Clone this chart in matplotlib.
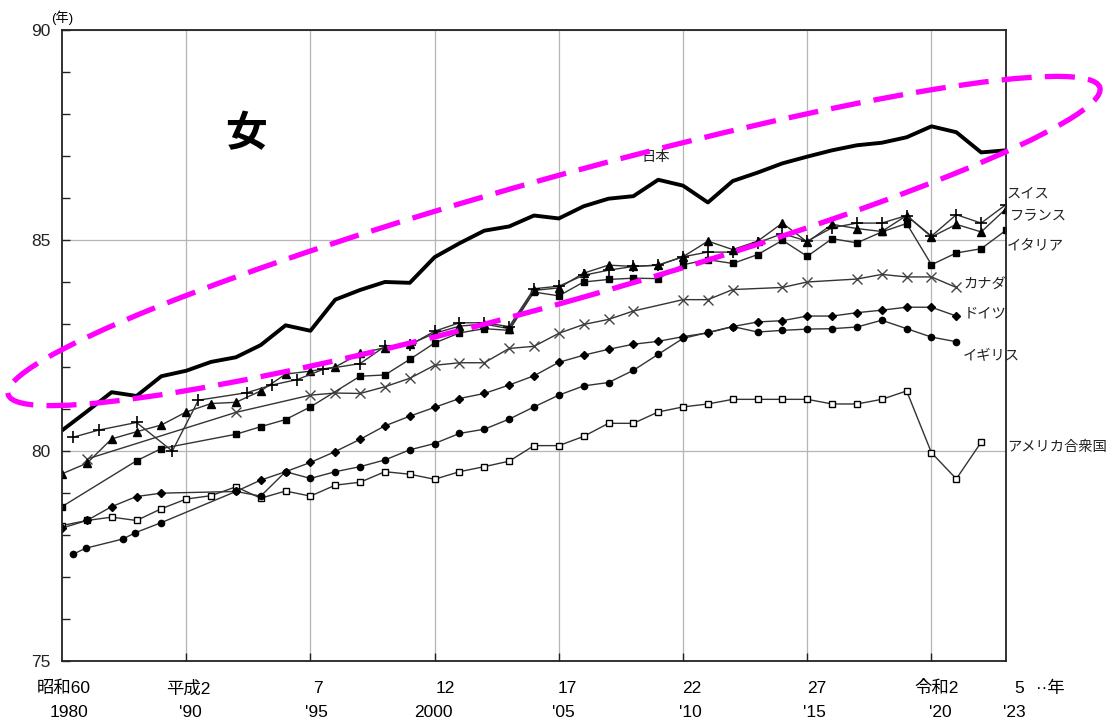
import matplotlib
matplotlib.use("Agg")
import matplotlib.pyplot as plt
from matplotlib.patches import Ellipse

plt.rcParams['font.family'] = ['Liberation Sans', 'Noto Sans CJK JP']

# female life expectancy (years)
jpn_years = list(range(1985, 2024))
jpn = [80.48, 80.93, 81.39, 81.30, 81.77, 81.90, 82.11, 82.22, 82.51, 82.98,
       82.85, 83.59, 83.82, 84.01, 83.99, 84.60, 84.93, 85.23, 85.33, 85.59,
       85.52, 85.81, 85.99, 86.05, 86.44, 86.30, 85.90, 86.41, 86.61, 86.83,
       86.99, 87.14, 87.26, 87.32, 87.45, 87.71, 87.57, 87.09, 87.14]

sui_years = [1985.45, 1986.48, 1988.0, 1989.44, 1990.49, 1992.46, 1993.44, 1994.47,
             1995.5, 1997] + list(range(1998, 2024))
sui = [80.32, 80.49, 80.67, 79.99, 81.20, 81.38, 81.56, 81.69, 81.93, 82.07,
       82.48, 82.51, 82.84, 83.04, 83.04, 82.95, 83.85, 83.91, 84.17, 84.29,
       84.38, 84.41, 84.61, 84.72, 84.72, 84.94, 85.16, 84.98, 85.30, 85.41,
       85.41, 85.59, 85.10, 85.61, 85.41, 85.85]

fra_years = list(range(1985, 2024))
fra = [79.45, 79.70, 80.28, 80.45, 80.61, 80.92, 81.12, 81.15, 81.42, 81.82,
       81.89, 81.99, 82.31, 82.45, 82.53, 82.79, 82.96, 83.01, 82.90, 83.81,
       83.87, 84.22, 84.41, 84.38, 84.41, 84.61, 84.98, 84.78, 84.98, 85.41,
       84.96, 85.38, 85.28, 85.21, 85.59, 85.08, 85.38, 85.20, 85.75]

ita_years = [1985, 1988, 1989, 1992, 1993, 1994, 1995, 1997, 1998, 1999, 2000] + list(range(2001, 2024))
ita = [78.67, 79.76, 80.05, 80.39, 80.57, 80.74, 81.04, 81.77, 81.80, 82.17, 82.56,
       82.80, 82.90, 82.86, 83.77, 83.68, 84.01, 84.07, 84.10, 84.09, 84.42,
       84.54, 84.45, 84.66, 85.00, 84.62, 85.04, 84.94, 85.20, 85.40, 84.42,
       84.70, 84.80, 85.24]

can_years = [1986, 1992, 1995, 1996, 1997, 1998, 1999, 2000, 2001, 2002, 2003, 2004, 2005,
             2006, 2007, 2008, 2010, 2011, 2012, 2014, 2015, 2017, 2018, 2019, 2020, 2021]
can = [79.80, 80.91, 81.32, 81.37, 81.36, 81.52, 81.72, 82.03, 82.09, 82.09, 82.43, 82.48, 82.79,
       83.00, 83.12, 83.32, 83.59, 83.59, 83.83, 83.88, 84.01, 84.08, 84.19, 84.13, 84.13, 83.88]

ger_years = [1985, 1986, 1987, 1988, 1989] + list(range(1992, 2022))
ger = [78.16, 78.34, 78.67, 78.91, 78.99,
       79.03, 79.30, 79.50, 79.72, 79.98, 80.27, 80.59, 80.82, 81.03, 81.24,
       81.36, 81.56, 81.78, 82.10, 82.27, 82.41, 82.53, 82.60, 82.71, 82.80,
       82.95, 83.06, 83.09, 83.20, 83.20, 83.28, 83.34, 83.41, 83.41, 83.20]

uk_years = [1985.45, 1985.95, 1987.45, 1987.95, 1989] + list(range(1992, 2022))
uk = [77.54, 77.68, 77.90, 78.05, 78.29,
      79.03, 78.92, 79.50, 79.34, 79.50, 79.62, 79.78, 80.02, 80.17, 80.41,
      80.51, 80.75, 81.04, 81.32, 81.54, 81.62, 81.91, 82.29, 82.67, 82.81,
      82.95, 82.82, 82.86, 82.89, 82.90, 82.94, 83.10, 82.90, 82.70, 82.59]

usa_years = list(range(1985, 2023))
usa = [78.22, 78.34, 78.42, 78.34, 78.62, 78.85, 78.93, 79.14, 78.87, 79.04,
       78.92, 79.18, 79.25, 79.50, 79.44, 79.32, 79.50, 79.62, 79.75, 80.12,
       80.12, 80.34, 80.65, 80.65, 80.92, 81.04, 81.11, 81.22, 81.22, 81.22,
       81.22, 81.11, 81.11, 81.22, 81.42, 79.95, 79.33, 80.20]

era_labels = ['昭和60', '平成2', '7', '12', '17', '22', '27', '令和2', '5']
year_labels = ['1980', "'90", "'95", '2000', "'05", "'10", "'15", "'20", "'23"]
era_pos = [1985.05, 1990.1, 1995.3, 2000.45, 2005.35, 2010.35, 2015.4, 2020.2, 2023.55]
year_pos = [1985.3, 1990.15, 1995.25, 1999.95, 2005.2, 2010.3, 2015.3, 2020.35, 2023.35]

fig = plt.figure(figsize=(11.09, 7.21), dpi=100)
ax = fig.add_axes([62 / 1109, 1 - 661 / 721, (1006 - 62) / 1109, (661 - 30) / 721])

lc = '#333333'
ax.plot(usa_years, usa, color=lc, lw=1.0, marker='s', ms=5, mfc='white', mec='k', mew=1.0)
ax.plot(uk_years, uk, color=lc, lw=1.0, marker='o', ms=4.5, mfc='k', mec='k')
ax.plot(ger_years, ger, color=lc, lw=1.0, marker='D', ms=4.5, mfc='k', mec='k')
ax.plot(can_years, can, color=lc, lw=1.0, marker='x', ms=7, mec='#444444', mew=1.0)
ax.plot(ita_years, ita, color=lc, lw=1.0, marker='s', ms=5, mfc='k', mec='k')
ax.plot(fra_years, fra, color=lc, lw=1.0, marker='^', ms=6, mfc='k', mec='k')
ax.plot(sui_years, sui, color=lc, lw=1.0, marker='+', ms=9, mec='k', mew=1.2)
ax.plot(jpn_years, jpn, color='k', lw=2.8)

ax.set_xlim(1985, 2023)
ax.set_ylim(75, 90)
ax.set_xticks(range(1990, 2021, 5))
ax.set_xticklabels([])
ax.set_yticks([75, 80, 85, 90])
ax.set_yticks(range(75, 91), minor=True)
ax.tick_params(axis='both', which='both', direction='in', length=6, width=1.0, colors='#222222')
ax.tick_params(axis='y', labelsize=12.5, pad=8)
ax.grid(True, which='major', color='#b5b5b5', lw=0.9)
for s in ax.spines.values():
    s.set_linewidth(1.3)
    s.set_color('#222222')

tr = ax.get_xaxis_transform()
for p, t in zip(era_pos, era_labels):
    ax.text(p, -0.043, t, transform=tr, ha='center', va='center', fontsize=12.5)
for p, t in zip(year_pos, year_labels):
    ax.text(p, -0.081, t, transform=tr, ha='center', va='center', fontsize=12.5)
ax.text(2024.2, -0.043, '··年', transform=tr, ha='left', va='center', fontsize=12.5)

fig.text(62 / 1109, 1 - 18 / 721, '(年)', ha='center', va='center', fontsize=9.5)

ax.text(1992.4, 87.5, '女', ha='center', va='center', fontsize=30, fontweight='bold')

tc = '#222222'
fs = 10.3
ax.text(2008.9, 86.97, '日本', ha='center', va='center', fontsize=fs, color=tc)
ax.text(2023.04, 86.12, 'スイス', ha='left', va='center', fontsize=fs, color=tc, clip_on=False)
ax.text(2023.16, 85.59, 'フランス', ha='left', va='center', fontsize=fs, color=tc, clip_on=False)
ax.text(2023.04, 84.88, 'イタリア', ha='left', va='center', fontsize=fs, color=tc, clip_on=False)
ax.text(2021.3, 83.94, 'カナダ', ha='left', va='center', fontsize=fs, color=tc)
ax.text(2021.3, 83.27, 'ドイツ', ha='left', va='center', fontsize=fs, color=tc)
ax.text(2021.26, 82.25, 'イギリス', ha='left', va='center', fontsize=fs, color=tc)
ax.text(2023.04, 80.09, 'アメリカ合衆国', ha='left', va='center', fontsize=fs, color=tc, clip_on=False)

# highlight ellipse around Japan
ell = Ellipse((5.54, 7.21 - 2.41), 11.34, 1.24, angle=15.7, transform=fig.dpi_scale_trans,
              fill=False, edgecolor='#ff00ff', lw=3.8, linestyle=(0, (5.7, 2.5)), clip_on=False)
fig.patches.append(ell)

fig.savefig('out.png', dpi=100)
